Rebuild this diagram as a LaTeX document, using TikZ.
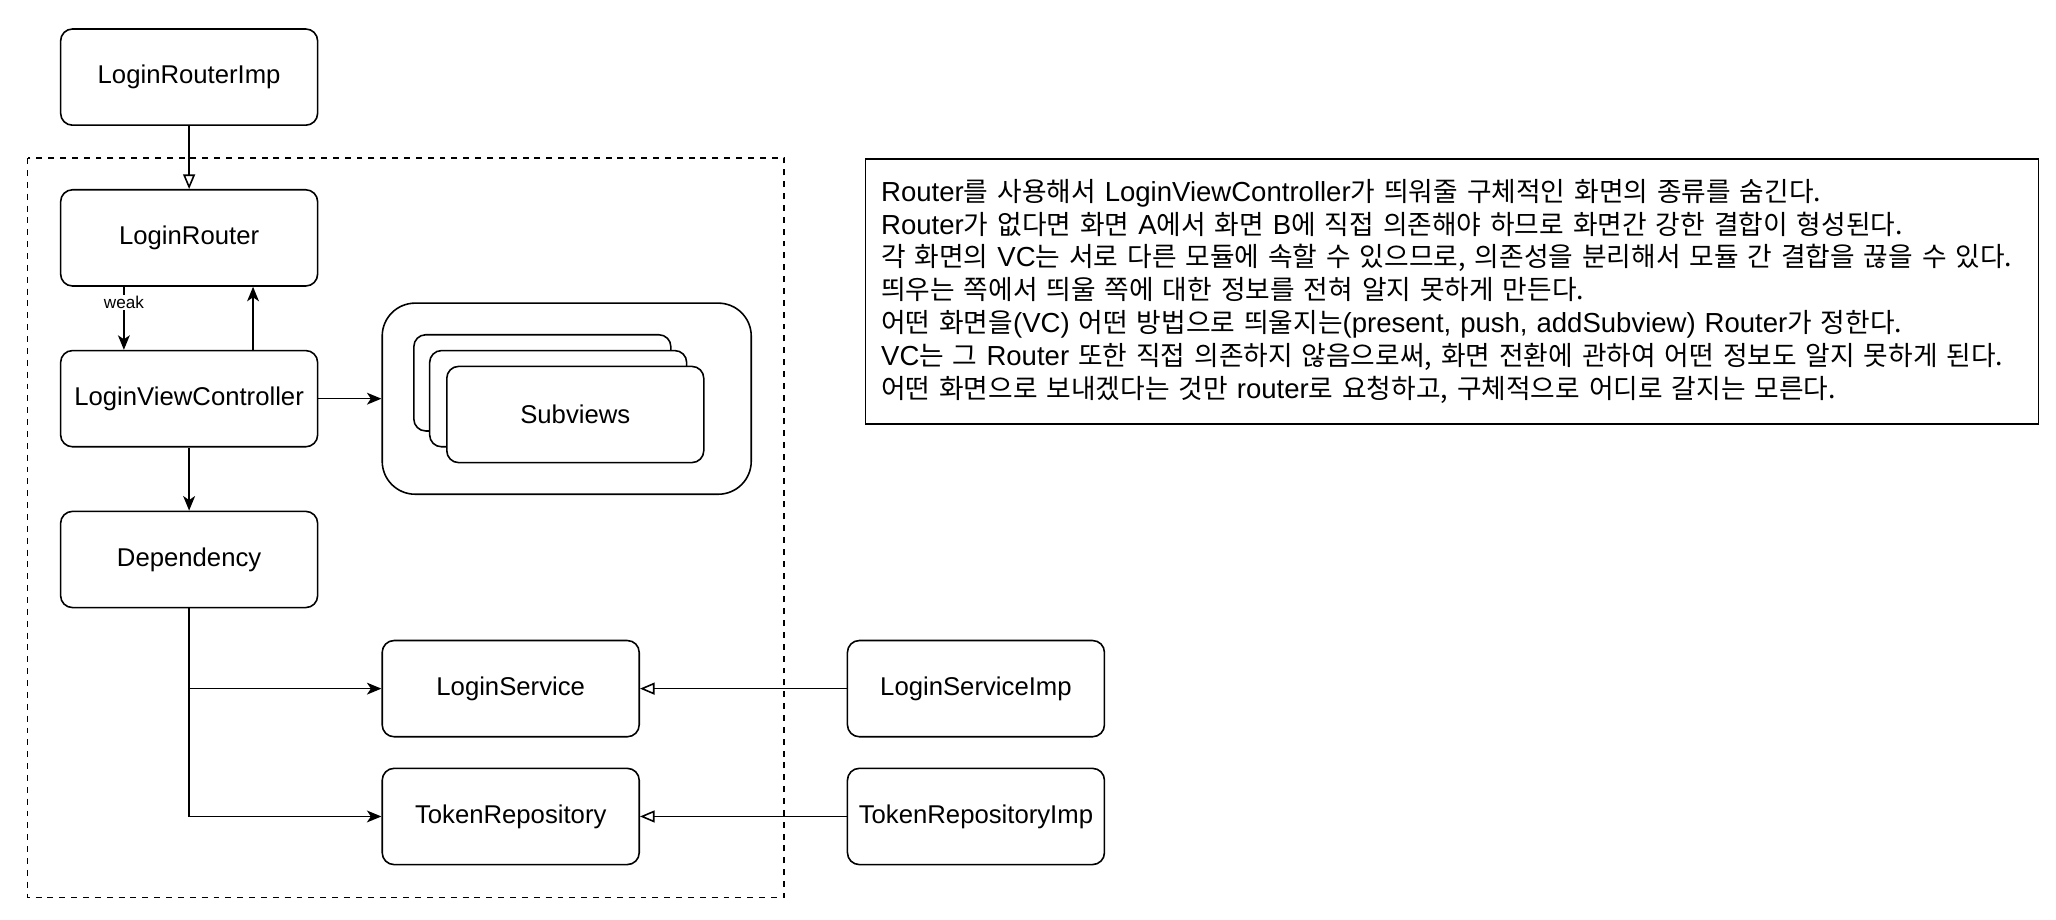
\documentclass[tikz,border=0pt]{standalone}
\usepackage{fontspec}
\setmainfont{Liberation Sans}
\newfontfamily\kr{Noto Sans CJK KR}
\newcommand\eng[1]{{\rmfamily\fontsize{20.9}{25}\selectfont #1}}
\usetikzlibrary{positioning, arrows.meta}

\begin{document}
\begin{tikzpicture}[x=1pt, y=-1pt, node distance=122pt, line width=1.2pt,
    >={Stealth[length=11pt, width=9pt, inset=3pt]},
    box/.style={draw, rounded corners=9pt, fill=white, minimum width=195pt, minimum height=73pt, font=\fontsize{19.5}{23}\selectfont},
    impl/.style={-{Triangle[open, fill=white, length=11pt, width=9pt]}}]

    \useasboundingbox (0,0) rectangle (1560,698);

    % Define the boxes (nodes)
    \node[box] (routerimp) at (143.5,58.5) {LoginRouterImp};
    \node[box, below of=routerimp] (router) {LoginRouter};
    \node[box, below of=router] (vc) {LoginViewController};
    \node[box, below of=vc] (dep) {Dependency};
    \node[box] (service) at (387.5,522.5) {LoginService};
    \node[box, below of=service, node distance=97pt] (repo) {TokenRepository};
    \node[box, right of=service, node distance=353pt] (serviceimp) {LoginServiceImp};
    \node[box, right of=repo, node distance=353pt] (repoimp) {TokenRepositoryImp};

    % subviews stack
    \node[box, rounded corners=25pt, minimum width=280pt, minimum height=145pt] (subviews) at (430,302.5) {};
    \node[box] (card1) at (411.5,290.5) {};
    \node[box] (card2) at (423.5,302.5) {};
    \node[box] (card3) at (436.5,314.5) {Subviews};

    % module border
    \draw[dashed, dash pattern=on 4.5pt off 4.5pt] (21,120) rectangle (595,681);

    % note
    \node[draw, anchor=north west, minimum width=890pt, minimum height=201pt, text width=866pt, inner xsep=11pt, align=left,
          font=\kr\fontsize{20.3}{25}\selectfont] (note) at (656,120)
      {\eng{Router}를 사용해서 \eng{LoginViewController}가 띄워줄 구체적인 화면의 종류를 숨긴다.\\
       \eng{Router}가 없다면 화면 \eng{A}에서 화면 \eng{B}에 직접 의존해야 하므로 화면간 강한 결합이 형성된다.\\
       각 화면의 \eng{VC}는 서로 다른 모듈에 속할 수 있으므로, 의존성을 분리해서 모듈 간 결합을 끊을 수 있다.\\
       띄우는 쪽에서 띄울 쪽에 대한 정보를 전혀 알지 못하게 만든다.\\
       어떤 화면을\eng{(VC)} 어떤 방법으로 띄울지는\eng{(present, push, addSubview) Router}가 정한다.\\
       \eng{VC}는 그 \eng{Router} 또한 직접 의존하지 않음으로써, 화면 전환에 관하여 어떤 정보도 알지 못하게 된다.\\
       어떤 화면으로 보내겠다는 것만 \eng{router}로 요청하고, 구체적으로 어디로 갈지는 모른다.};

    % Define the connectors
    \path[impl]
    (routerimp) edge (router)
    (serviceimp) edge (service)
    (repoimp) edge (repo);
    \path[->]
    ([xshift=-49.5pt]router.south) edge node[pos=0.25, fill=white, inner sep=1pt, font=\fontsize{13}{15}\selectfont] {weak} ([xshift=-49.5pt]vc.north)
    ([xshift=48.5pt]vc.north) edge ([xshift=48.5pt]router.south)
    (vc) edge (subviews)
    (vc) edge (dep);
    \draw[->] (dep.south) |- (service.west);
    \draw[->] (dep.south) |- (repo.west);
\end{tikzpicture}
\end{document}
